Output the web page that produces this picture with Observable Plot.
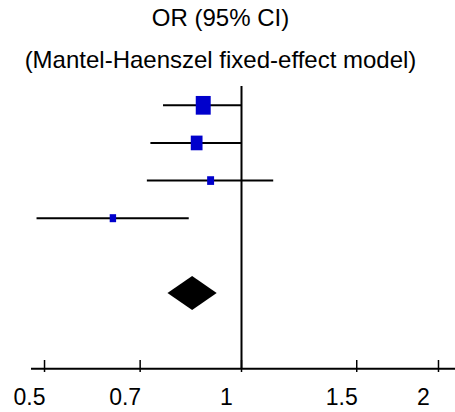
<!DOCTYPE html>
<html>
<head>
<meta charset="utf-8">
<script src="https://cdn.jsdelivr.net/npm/d3@7"></script>
<script src="https://cdn.jsdelivr.net/npm/@observablehq/plot@0.6"></script>
<style>
  html, body { margin: 0; padding: 0; background: #fff; }
  #wrap { width: 455px; font-family: "Liberation Sans", Arial, sans-serif; color: #000; }
  .t { width: 441px; font-size: 24px; line-height: 30px; height: 30px; text-align: center; white-space: nowrap; }
  #title { padding-top: 3px; }
  #subtitle { margin-top: 11.7px; }
  #chart { height: 337.3px; }
</style>
</head>
<body>
<div id="wrap">
  <div id="title" class="t">OR (95% CI)</div>
  <div id="subtitle" class="t">(Mantel-Haenszel fixed-effect model)</div>
  <div id="chart"></div>
</div>
<script>
// Study rows (top to bottom)
const rows = [1, 2, 3, 4];
const orEst = [0.874, 0.854, 0.897, 0.636];
const orLow = [0.760, 0.727, 0.718, 0.487];
const orHigh = [1.000, 1.000, 1.120, 0.832];
const weights = [49.6, 30.6, 10.7, 9.1];

// Pooled (Mantel-Haenszel) estimate
const pooledRow = 6;
const pooledEst = 0.842;
const pooledLow = 0.772;
const pooledHigh = 0.918;

const tickValues = [0.5, 0.7, 1, 1.5, 2];
const tickLabels = ["0.5", "0.7", "1", "1.5", "2"];

const studies = rows.map((r, i) => ({row: r, est: orEst[i], lo: orLow[i], hi: orHigh[i], w: weights[i]}));
const dh = 0.45;
const diamond = [
  {y: pooledRow - dh, x1: pooledEst, x2: pooledEst},
  {y: pooledRow, x1: pooledLow, x2: pooledHigh},
  {y: pooledRow + dh, x1: pooledEst, x2: pooledEst}
];

const box = {
  draw(ctx, size) {
    const h = Math.sqrt(size / Math.PI);
    const w = h * 0.8;
    ctx.moveTo(-w, -h); ctx.lineTo(w, -h); ctx.lineTo(w, h); ctx.lineTo(-w, h); ctx.closePath();
  }
};

const chart = Plot.plot({
  width: 455,
  height: 337,
  marginLeft: 31,
  marginRight: 0,
  marginTop: 11,
  marginBottom: 52,
  style: {fontFamily: "'Liberation Sans', Arial, sans-serif", fontSize: "23px", color: "#000", background: "#fff"},
  x: {type: "log", domain: [0.4776, 2.1234], axis: null},
  y: {type: "linear", domain: [0.5, 7.782], reverse: true, axis: null},
  r: {domain: [0, d3.max(weights)], range: [0, 9.35]},
  marks: [
    Plot.ruleX([1], {x: d => d, y1: 0.5, y2: 8, stroke: "#000", strokeWidth: 2}),
    Plot.ruleY(studies, {y: "row", x1: "lo", x2: "hi", stroke: "#000", strokeWidth: 2}),
    Plot.dot(studies, {x: "est", y: "row", r: "w", symbol: box, fill: "#0000cc", stroke: null}),
    Plot.areaX(diamond, {y: "y", x1: "x1", x2: "x2", fill: "#000"}),
    Plot.ruleY([8], {stroke: "#000", strokeWidth: 2}),
    Plot.axisX({ticks: tickValues, tickSize: 12, tickFormat: () => "", strokeWidth: 1.5, stroke: "#000"}),
    Plot.axisX({ticks: tickValues, tickSize: 0, tickPadding: 28, dx: -15, fontSize: 23, fill: "#000",
      tickFormat: d => tickLabels[tickValues.indexOf(d)]})
  ]
});
document.getElementById("chart").appendChild(chart);
</script>
</body>
</html>
